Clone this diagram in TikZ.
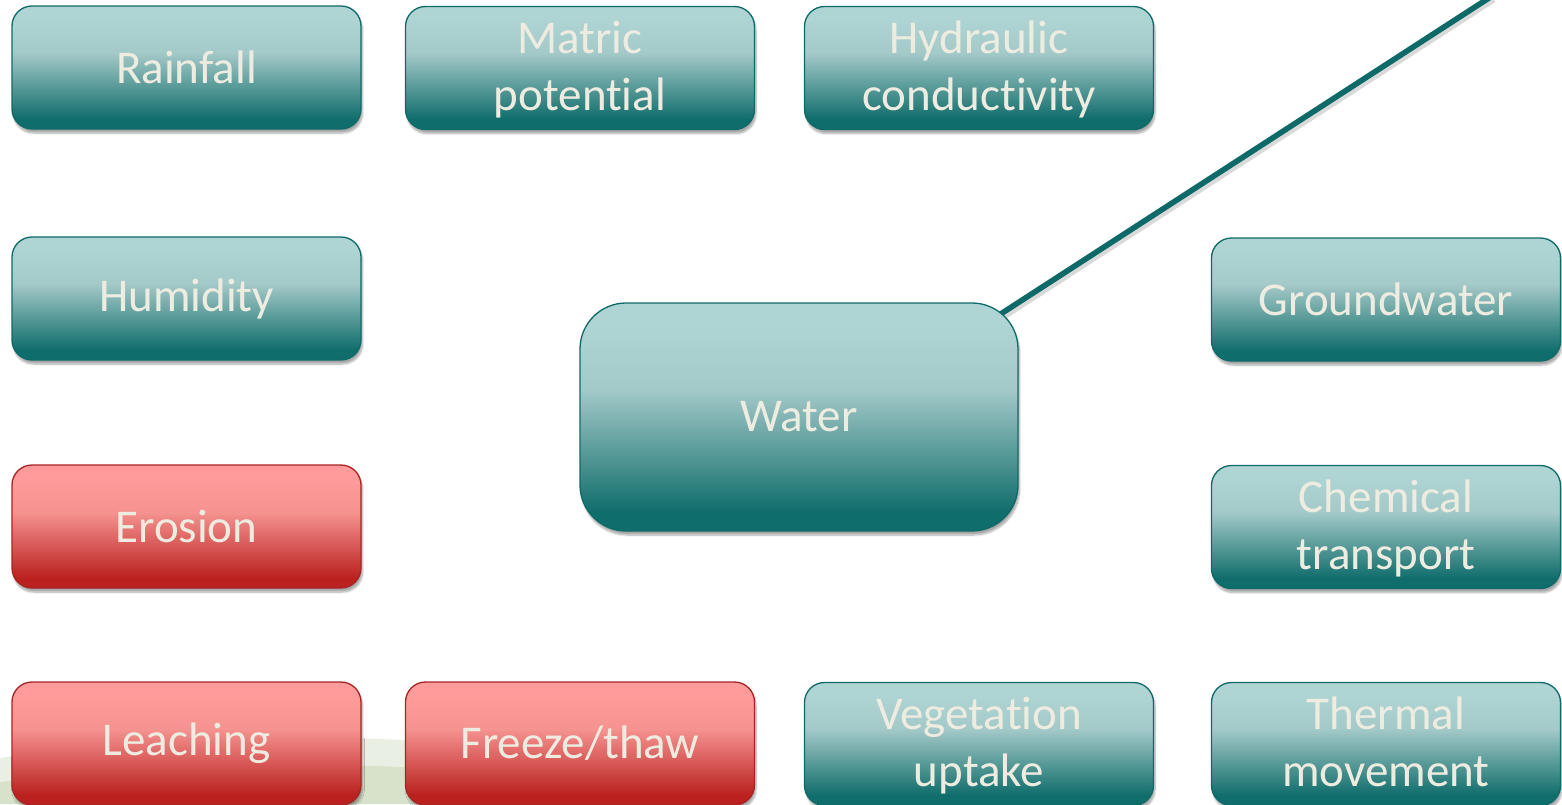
\documentclass[tikz,border=0pt]{standalone}
\usepackage{fontspec}
\setmainfont[Ligatures=NoCommon]{Carlito}
\usetikzlibrary{calc,backgrounds,shadows.blur}
\definecolor{tealtop}{HTML}{AED4D3}
\definecolor{tealmid}{HTML}{A3C9C8}
\definecolor{tealbot}{HTML}{0F6D6B}
\definecolor{tealline}{HTML}{0E6A68}
\definecolor{redtop}{HTML}{FF9C9B}
\definecolor{redmid}{HTML}{F59390}
\definecolor{redbot}{HTML}{BA211F}
\definecolor{redline}{HTML}{A82424}
\definecolor{txt}{HTML}{EEECE1}
\definecolor{swooshA}{HTML}{EAEFE3}
\definecolor{swooshB}{HTML}{D8E2CA}
% TikZ maps the path's bounding box onto 25bp..75bp of the shading
\pgfdeclareverticalshading{tealgrad}{100bp}{color(0bp)=(tealbot); color(25bp)=(tealbot); color(29bp)=(tealbot); color(56bp)=(tealmid); color(70bp)=(tealtop); color(75bp)=(tealtop); color(100bp)=(tealtop)}
\pgfdeclareverticalshading{redgrad}{100bp}{color(0bp)=(redbot); color(25bp)=(redbot); color(29bp)=(redbot); color(56bp)=(redmid); color(70bp)=(redtop); color(75bp)=(redtop); color(100bp)=(redtop)}
\tikzset{
  box/.style={rectangle, rounded corners=20pt, minimum width=349pt, minimum height=123pt,
    inner sep=0pt, align=center, text=txt, font=\fontsize{47}{57}\selectfont, line width=1.3pt,
    blur shadow={shadow xshift=1.5pt, shadow yshift=-4pt, shadow blur steps=8, shadow opacity=35}},
  tealbox/.style={box, draw=tealline, shading=tealgrad},
  redbox/.style={box, draw=redline, shading=redgrad},
  twoline/.style={text depth=4pt},
  link/.style={draw=tealline, line width=5.6pt},
  linkshadow/.style={draw=black, opacity=0.15, line width=5.6pt}
}
\begin{document}
\begin{tikzpicture}[x=1pt,y=-1pt]
\useasboundingbox (0,0) rectangle (1562,804);
\clip (0,0) rectangle (1562,804);
% background swoosh
\fill[swooshA] (0,758) .. controls (200,730) and (480,722) .. (740,790) -- (740,804) -- (0,804) -- cycle;
\fill[swooshB] (0,782) .. controls (200,760) and (470,752) .. (700,804) -- (0,804) -- cycle;

\node[tealbox] (rain) at (186.5,67.5) {Rainfall};
\node[tealbox, twoline] (matric) at (580,68) {Matric\\potential};
\node[tealbox, twoline] (hydr) at (979,68) {Hydraulic\\conductivity};
\node[tealbox] (hum) at (186.5,298.5) {Humidity};
\node[tealbox] (gw) at (1386,299.5) {Groundwater};
\node[redbox] (eros) at (186.5,526.5) {Erosion};
\node[tealbox, twoline] (chem) at (1386,527) {Chemical\\transport};
\node[redbox] (leach) at (186.5,743.5) {Leaching};
\node[redbox] (freeze) at (580,743.5) {Freeze/thaw};
\node[tealbox, twoline] (veg) at (979,744) {Vegetation\\uptake};
\node[tealbox, twoline] (therm) at (1386,744) {Thermal\\movement};
\node[tealbox, rounded corners=46pt, minimum width=438pt, minimum height=228pt] (water) at (799,417) {Water};

\coordinate (tip) at (1492,-4);
\begin{pgfonlayer}{background}
\draw[linkshadow] ($(water.north east)!-0.1!(tip)+(2,3.5)$) -- ($(tip)+(2,3.5)$);
\draw[link] ($(water.north east)!-0.1!(tip)$) -- (tip);
\end{pgfonlayer}
\end{tikzpicture}
\end{document}
